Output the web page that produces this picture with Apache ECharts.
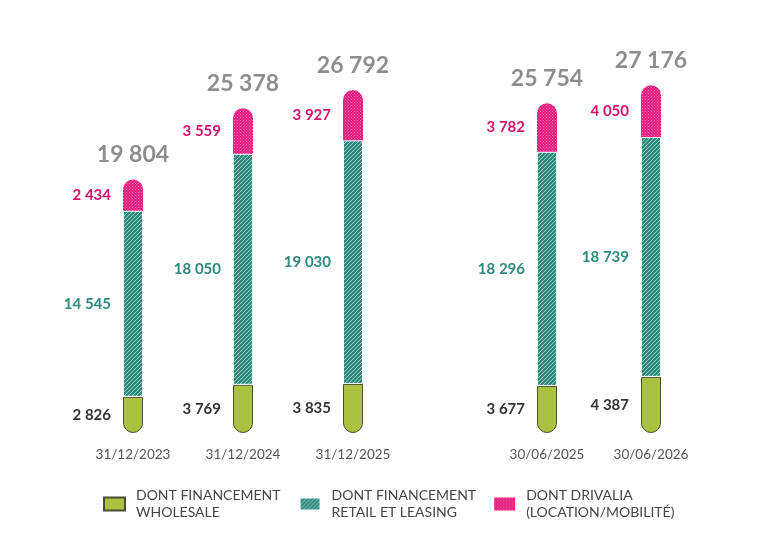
<!DOCTYPE html>
<html>
<head>
<meta charset="utf-8">
<script src="https://cdn.jsdelivr.net/npm/echarts@6/dist/echarts.min.js"></script>
<style>
  html, body { margin: 0; padding: 0; background: #fff; }
  #main { width: 778px; height: 540px; }
</style>
</head>
<body>
<div id="main"></div>
<script>
// deux groupes de dates : fin d'année / fin de semestre
var categories = ['31/12/2023', '31/12/2024', '31/12/2025', '30/06/2025', '30/06/2026'];
var groupOf   = [0, 0, 0, 1, 1];
var wholesale = [2826, 3769, 3835, 3677, 4387];
var retail    = [14545, 18050, 19030, 18296, 18739];
var drivalia  = [2434, 3559, 3927, 3782, 4050];
var totals    = [19804, 25378, 26792, 25754, 27176];
var seriesNames = ['DONT FINANCEMENT\nWHOLESALE', 'DONT FINANCEMENT\nRETAIL ET LEASING', 'DONT DRIVALIA\n(LOCATION/MOBILITÉ)'];

function fmt(v) {
	return String(v).replace(/\B(?=(\d{3})+(?!\d))/g, ' ');
}
function pick(arr, g) {
	return arr.filter(function(v, i) { return groupOf[i] === g; });
}

// hachures pour retail
function hatch() {
	var c = document.createElement('canvas');
	c.width = 4; c.height = 4;
	var ctx = c.getContext('2d');
	ctx.fillStyle = '#2c897b';
	ctx.fillRect(0, 0, 4, 4);
	ctx.strokeStyle = '#98cfc5';
	ctx.lineWidth = 1;
	ctx.beginPath();
	ctx.moveTo(0, 4); ctx.lineTo(4, 0);
	ctx.moveTo(-1, 1); ctx.lineTo(1, -1);
	ctx.moveTo(3, 5); ctx.lineTo(5, 3);
	ctx.stroke();
	return c;
}
// points pour drivalia
function dots() {
	var c = document.createElement('canvas');
	c.width = 3; c.height = 3;
	var ctx = c.getContext('2d');
	ctx.fillStyle = '#e3177c';
	ctx.fillRect(0, 0, 3, 3);
	ctx.fillStyle = '#f07fb2';
	ctx.fillRect(0, 0, 1, 1);
	ctx.fillRect(1.5, 1.5, 1, 1);
	return c;
}

var myChart = echarts.init(document.getElementById('main'));
var font = 'Lato, "Open Sans", sans-serif';
var hatchImg = hatch(), dotImg = dots();

function segLabel(color) {
	return {
		show: true,
		position: 'left',
		distance: 12,
		color: color,
		fontWeight: 'bold',
		fontSize: 15,
		formatter: function(p) { return fmt(p.value); }
	};
}

var grids = [
	{ left: 78, width: 330, top: 49, bottom: 107 },
	{ left: 495, width: 208, top: 49, bottom: 107 }
];
var xAxes = [], yAxes = [], series = [];
[0, 1].forEach(function(g) {
	xAxes.push({
		type: 'category',
		gridIndex: g,
		data: pick(categories, g),
		axisLine: { show: false },
		axisTick: { show: false },
		axisLabel: { color: '#555', fontSize: 13.5, margin: 15, fontFamily: font }
	});
	yAxes.push({ type: 'value', gridIndex: g, min: 0, max: 30000, show: false, splitLine: { show: false } });
	series.push({
		name: seriesNames[0],
		type: 'bar',
		stack: 'total' + g,
		xAxisIndex: g, yAxisIndex: g,
		barWidth: 20,
		data: pick(wholesale, g),
		itemStyle: {
			color: '#a9c23f',
			borderColor: '#4a4a35',
			borderWidth: 1,
			borderRadius: [0, 0, 10, 10]
		},
		label: segLabel('#333')
	}, {
		name: seriesNames[1],
		type: 'bar',
		stack: 'total' + g,
		xAxisIndex: g, yAxisIndex: g,
		barWidth: 20,
		data: pick(retail, g),
		itemStyle: {
			color: { image: hatchImg, repeat: 'repeat' },
			borderColor: '#fff',
			borderWidth: 1
		},
		label: segLabel('#2c897b')
	}, {
		name: seriesNames[2],
		type: 'bar',
		stack: 'total' + g,
		xAxisIndex: g, yAxisIndex: g,
		barWidth: 20,
		data: pick(drivalia, g),
		itemStyle: {
			color: { image: dotImg, repeat: 'repeat' },
			borderRadius: [10, 10, 0, 0]
		},
		label: segLabel('#d4136f')
	}, {
		name: 'total',
		type: 'scatter',
		xAxisIndex: g, yAxisIndex: g,
		symbolSize: 0,
		data: pick(totals, g),
		silent: true,
		label: {
			show: true,
			position: 'top',
			distance: 13,
			color: '#707070',
			fontWeight: 'bold',
			fontSize: 23,
			formatter: function(p) { return fmt(p.value); }
		}
	});
});

var option = {
	animation: false,
	textStyle: { fontFamily: font },
	grid: grids,
	legend: {
		data: seriesNames,
		left: 103,
		top: 487,
		padding: 0,
		icon: 'rect',
		itemWidth: 21,
		itemHeight: 13,
		itemGap: 18,
		textStyle: { fontFamily: font, fontSize: 14, color: '#444', lineHeight: 17, padding: [0, 0, 0, 6] }
	},
	xAxis: xAxes,
	yAxis: yAxes,
	series: series
};
myChart.setOption(option);
</script>
</body>
</html>
